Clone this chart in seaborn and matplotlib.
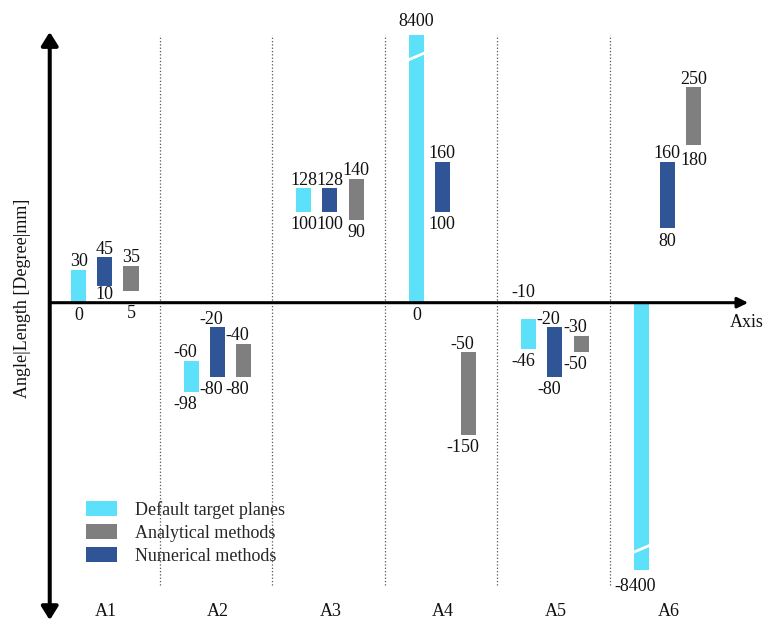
import numpy as np
import pandas as pd
import seaborn as sns
import matplotlib.pyplot as plt
from matplotlib.patches import Patch

# ranges per method (low / high end of each floating bar)
categories = ["A1", "A2", "A3", "A4", "A5", "A6"]
default_low = [0, -98, 100, 0, -46, -8400]
default_high = [30, -60, 128, 8400, -10, 0]
numerical_low = [10, -80, 100, 100, -80, 80]
numerical_high = [45, -20, 128, 160, -20, 160]
analytical_low = [5, -80, 90, -150, -50, 180]
analytical_high = [35, -40, 140, -50, -30, 250]

series_names = ["Default target planes", "Analytical methods", "Numerical methods"]

sns.set_theme(style="white")
plt.rcParams['font.family'] = ['Liberation Serif', 'DejaVu Serif']

colors = {"Default target planes": "#5de0fa",
          "Analytical methods": "#7f7f7f",
          "Numerical methods": "#2f5597"}
offsets = {"Default target planes": 0.0,
           "Numerical methods": 0.23,
           "Analytical methods": 0.465}
bar_w = 0.135
cap = 313   # anything beyond this is drawn as a broken bar


# schematic axis: small values are stretched a bit near zero
def fwd(v):
    v = np.asarray(v, dtype=float)
    return 0.83 * v + 8 * np.tanh(v / 3)


_grid = np.linspace(-1000, 1000, 200001)


def inv(u):
    return np.interp(u, fwd(_grid), _grid)


rows = []
for name, lo, hi in [("Default target planes", default_low, default_high),
                     ("Numerical methods", numerical_low, numerical_high),
                     ("Analytical methods", analytical_low, analytical_high)]:
    for i, c in enumerate(categories):
        rows.append(dict(group=c, pos=i, series=name, low=lo[i], high=hi[i]))
df = pd.DataFrame(rows)

# labels that are left out or moved a bit (points)
hidden = {("A6", "Default target planes", "high")}
nudge = {("A1", "Numerical methods", "low"): 3.6,
         ("A1", "Analytical methods", "low"): -7,
         ("A5", "Default target planes", "high"): 13.5,
         ("A4", "Default target planes", "high"): 4,
         ("A6", "Default target planes", "low"): -2.5,
         ("A6", "Analytical methods", "low"): -2}

fig = plt.figure(figsize=(7.64, 6.22), dpi=100)
ax = fig.add_axes([0, 0, 1, 1])
ax.set_yscale("function", functions=(fwd, inv))
ax.set_xlim(-0.70, 6.09)
ax.set_ylim(inv(-319.3), inv(302.7))
ax.set_axis_off()

# dotted separators
seps = np.arange(len(categories) - 1) + 0.72
ax.vlines(seps, 0.06, 0.944, transform=ax.get_xaxis_transform(),
          colors="#555555", linestyles=":", lw=0.9)

for _, r in df.iterrows():
    x = r["pos"] + offsets[r["series"]]
    lo = np.clip(r["low"], -cap, cap)
    hi = np.clip(r["high"], -cap, cap)
    ax.bar(x, hi - lo, bottom=lo, width=bar_w, color=colors[r["series"]], lw=0)

    # break marks on the clipped bars
    for val, end in [(r["high"], hi), (r["low"], lo)]:
        if abs(val) > cap:
            yb = end - np.sign(val) * 26
            ax.plot([x - bar_w / 2 - 0.01, x + bar_w / 2 + 0.01], [yb - 4.5, yb + 4.5],
                    color="white", lw=2.0, solid_capstyle="butt")

    for which, val, end, dy in [("high", r["high"], hi, 2.5), ("low", r["low"], lo, -12.4)]:
        key = (r["group"], r["series"], which)
        if key in hidden:
            continue
        dx = -4.3 if val < 0 else 0
        ax.annotate(f"{val:g}", (x, end), xytext=(dx, dy + nudge.get(key, 0)),
                    textcoords="offset points", ha="center", va="baseline",
                    fontsize=13, color="#111111")

# axes arrows
ax.annotate("", xy=(-0.258, 0.9486), xytext=(-0.258, 0.003),
            xycoords=("data", "axes fraction"), textcoords=("data", "axes fraction"),
            arrowprops=dict(arrowstyle="<|-|>,head_length=0.4,head_width=0.25",
                            mutation_scale=20, lw=2.9, color="black",
                            shrinkA=0, shrinkB=0))
ax.annotate("", xy=(5.95, 0), xytext=(-0.258, 0),
            arrowprops=dict(arrowstyle="-|>,head_length=0.45,head_width=0.22",
                            mutation_scale=14, lw=2.2, color="black",
                            shrinkA=0, shrinkB=0))
xax = ax.get_xaxis_transform()
ax.text(5.787, 0.4823, "Axis", transform=xax, ha="left", va="center",
        fontsize=13, color="#111111")
ax.text(-0.50, 0.5209, "Angle|Length [Degree|mm]", transform=xax, rotation=90,
        ha="center", va="center", fontsize=13, color="#111111")

for i, c in enumerate(categories):
    ax.text(i + 0.24, 0.009, c, transform=xax, ha="center", va="baseline",
            fontsize=13, color="#111111")

handles = [Patch(color=colors[n], lw=0) for n in series_names]
fig.legend(handles, series_names, loc="upper left",
           bbox_to_anchor=(86 / 764, 1 - 501 / 622), frameon=False, fontsize=13,
           handlelength=1.7, handleheight=0.85, handletextpad=1.0,
           labelspacing=0.3, borderpad=0, borderaxespad=0)

fig.savefig("out.png", dpi=100)
